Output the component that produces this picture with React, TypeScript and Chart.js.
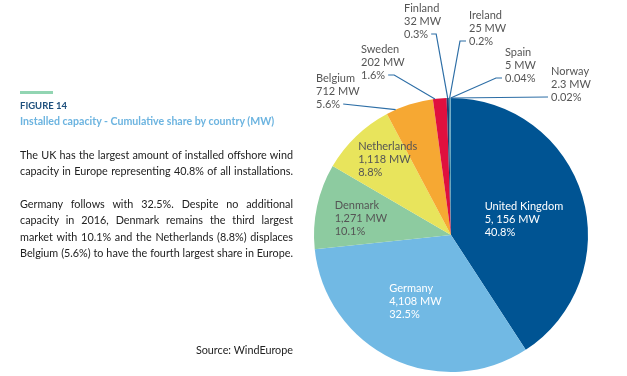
import React, { useEffect, useRef } from 'react';
import { Chart, registerables } from 'chart.js';

Chart.register(...registerables);

const countries = ['United Kingdom', 'Germany', 'Denmark', 'Netherlands', 'Belgium', 'Sweden', 'Finland', 'Ireland', 'Spain', 'Norway'];
const capacityMW = [5156, 4108, 1271, 1118, 712, 202, 32, 25, 5, 2.3];
const mwLabels = ['5, 156 MW', '4,108 MW', '1,271 MW', '1,118 MW', '712 MW', '202 MW', '32 MW', '25 MW', '5 MW', '2.3 MW'];
const shareLabels = ['40.8%', '32.5%', '10.1%', '8.8%', '5.6%', '1.6%', '0.3%', '0.2%', '0.04%', '0.02%'];
const sliceColors = ['#005493', '#71b9e4', '#8dcba0', '#e8e45c', '#f6a833', '#e0103e', '#1f3f73', '#3b8ea5', '#5aa0c8', '#2a6fa8'];

const paragraph1 = [
  'The UK has the largest amount of installed offshore wind',
  'capacity in Europe representing 40.8% of all installations.',
];
const paragraph2 = [
  'Germany follows with 32.5%. Despite no additional',
  'capacity in 2016, Denmark remains the third largest',
  'market with 10.1% and the Netherlands (8.8%) displaces',
  'Belgium (5.6%) to have the fourth largest share in Europe.',
];

// label placement (styles, not data)
const insideLayout: Record<number, { f: number; dx: number; dy: number; color: string }> = {
  0: { f: 0.54, dx: 2, dy: 5, color: '#ffffff' },
  1: { f: 0.57, dx: -2, dy: -4, color: '#ffffff' },
  2: { f: 0.71, dx: 5, dy: 4, color: '#555555' },
  3: { f: 0.72, dx: 5, dy: -4, color: '#555555' },
};
const outsideLayout: Record<number, { tx: number; ty: number; side: 'left' | 'right'; hook: number; t: number }> = {
  4: { tx: -135, ty: -157, side: 'left', hook: 0, t: 0.2 },
  5: { tx: -90, ty: -186, side: 'left', hook: 6, t: 0.15 },
  6: { tx: -47, ty: -227, side: 'left', hook: 5, t: 0.5 },
  7: { tx: 18, ty: -220, side: 'right', hook: 6, t: 0.5 },
  8: { tx: 54, ty: -183, side: 'right', hook: 6, t: 0.5 },
  9: { tx: 100, ty: -164, side: 'right', hook: 0, t: 0.5 },
};
const LABEL_FONT = '11px Lato';
const LINE_H = 13;

const labelPlugin = {
  id: 'pieLabels',
  afterDraw(chart: any) {
    const ctx: CanvasRenderingContext2D = chart.ctx;
    const meta = chart.getDatasetMeta(0);
    ctx.save();
    ctx.font = LABEL_FONT;
    ctx.textBaseline = 'middle';
    ctx.textAlign = 'left';
    meta.data.forEach((arc: any, i: number) => {
      const p = arc.getProps(['x', 'y', 'startAngle', 'endAngle', 'outerRadius'], true);
      const lines = [countries[i], mwLabels[i], shareLabels[i]];
      if (insideLayout[i]) {
        const L = insideLayout[i];
        const mid = (p.startAngle + p.endAngle) / 2;
        const cx = p.x + Math.cos(mid) * p.outerRadius * L.f + L.dx;
        const cy = p.y + Math.sin(mid) * p.outerRadius * L.f + L.dy;
        const w = Math.max(...lines.map((s) => ctx.measureText(s).width));
        ctx.fillStyle = L.color;
        lines.forEach((s, k) => ctx.fillText(s, cx - w / 2, cy + (k - 1) * LINE_H));
      } else if (outsideLayout[i]) {
        const L = outsideLayout[i];
        const x0 = p.x + L.tx;
        const y0 = p.y + L.ty;
        ctx.fillStyle = '#555555';
        lines.forEach((s, k) => ctx.fillText(s, x0, y0 + k * LINE_H));
        const ly = y0 + 2 * LINE_H;
        const lastW = ctx.measureText(lines[2]).width;
        const sx = L.side === 'left' ? x0 + lastW + 3 : x0 - 3;
        const hx = L.side === 'left' ? sx + L.hook : sx - L.hook;
        const ang = p.startAngle + (p.endAngle - p.startAngle) * L.t;
        const ex = p.x + Math.cos(ang) * p.outerRadius;
        const ey = p.y + Math.sin(ang) * p.outerRadius;
        ctx.strokeStyle = '#2d6ea6';
        ctx.lineWidth = 1.2;
        ctx.beginPath();
        ctx.moveTo(sx, ly);
        ctx.lineTo(hx, ly);
        ctx.lineTo(ex, ey);
        ctx.stroke();
      }
    });
    ctx.restore();
  },
};

export default function App() {
  const ref = useRef<HTMLCanvasElement>(null);
  useEffect(() => {
    if (!ref.current) return;
    const chart = new Chart(ref.current, {
      type: 'pie',
      data: {
        labels: countries,
        datasets: [{ data: capacityMW, backgroundColor: sliceColors, borderWidth: 0 }],
      },
      options: {
        responsive: false,
        animation: false,
        devicePixelRatio: 1,
        layout: { padding: { left: 314, right: 39, top: 98, bottom: 4 } },
        plugins: { legend: { display: false }, tooltip: { enabled: false } },
      },
      plugins: [labelPlugin],
    });
    return () => chart.destroy();
  }, []);

  const bodyFont: React.CSSProperties = { fontFamily: 'Lato', fontSize: 10.8, color: '#222', lineHeight: '16.3px' };
  const justLine: React.CSSProperties = { textAlign: 'justify', textAlignLast: 'justify', whiteSpace: 'nowrap' as any };

  return (
    <div style={{ position: 'fixed', left: 0, top: 0, width: 627, height: 376, background: '#fff', overflow: 'hidden' }}>
      <canvas ref={ref} width={627} height={376} style={{ position: 'absolute', left: 0, top: 0, width: 627, height: 376 }} />
      <div style={{ position: 'absolute', left: 20, top: 91, width: 33, height: 2.5, background: '#92d5b2' }} />
      <div style={{ position: 'absolute', left: 20, top: 100, fontFamily: 'Lato', fontWeight: 700, fontSize: 9.5, lineHeight: '12px', color: '#1d4f7c' }}>
        FIGURE 14
      </div>
      <div style={{ position: 'absolute', left: 20, top: 115, fontFamily: 'Lato', fontWeight: 700, fontSize: 10.6, lineHeight: '12px', color: '#6cb4e0', whiteSpace: 'nowrap' }}>
        Installed capacity - Cumulative share by country (MW)
      </div>
      <div style={{ position: 'absolute', left: 20, top: 147, width: 273, ...bodyFont }}>
        {paragraph1.map((s, i) => (
          <div key={i} style={justLine}>{s}</div>
        ))}
      </div>
      <div style={{ position: 'absolute', left: 20, top: 196, width: 273, ...bodyFont }}>
        {paragraph2.map((s, i) => (
          <div key={i} style={justLine}>{s}</div>
        ))}
      </div>
      <div style={{ position: 'absolute', left: 150, top: 342, width: 143, textAlign: 'right', fontFamily: 'Lato', fontSize: 10.8, lineHeight: '16px', color: '#222' }}>
        Source: WindEurope
      </div>
    </div>
  );
}
